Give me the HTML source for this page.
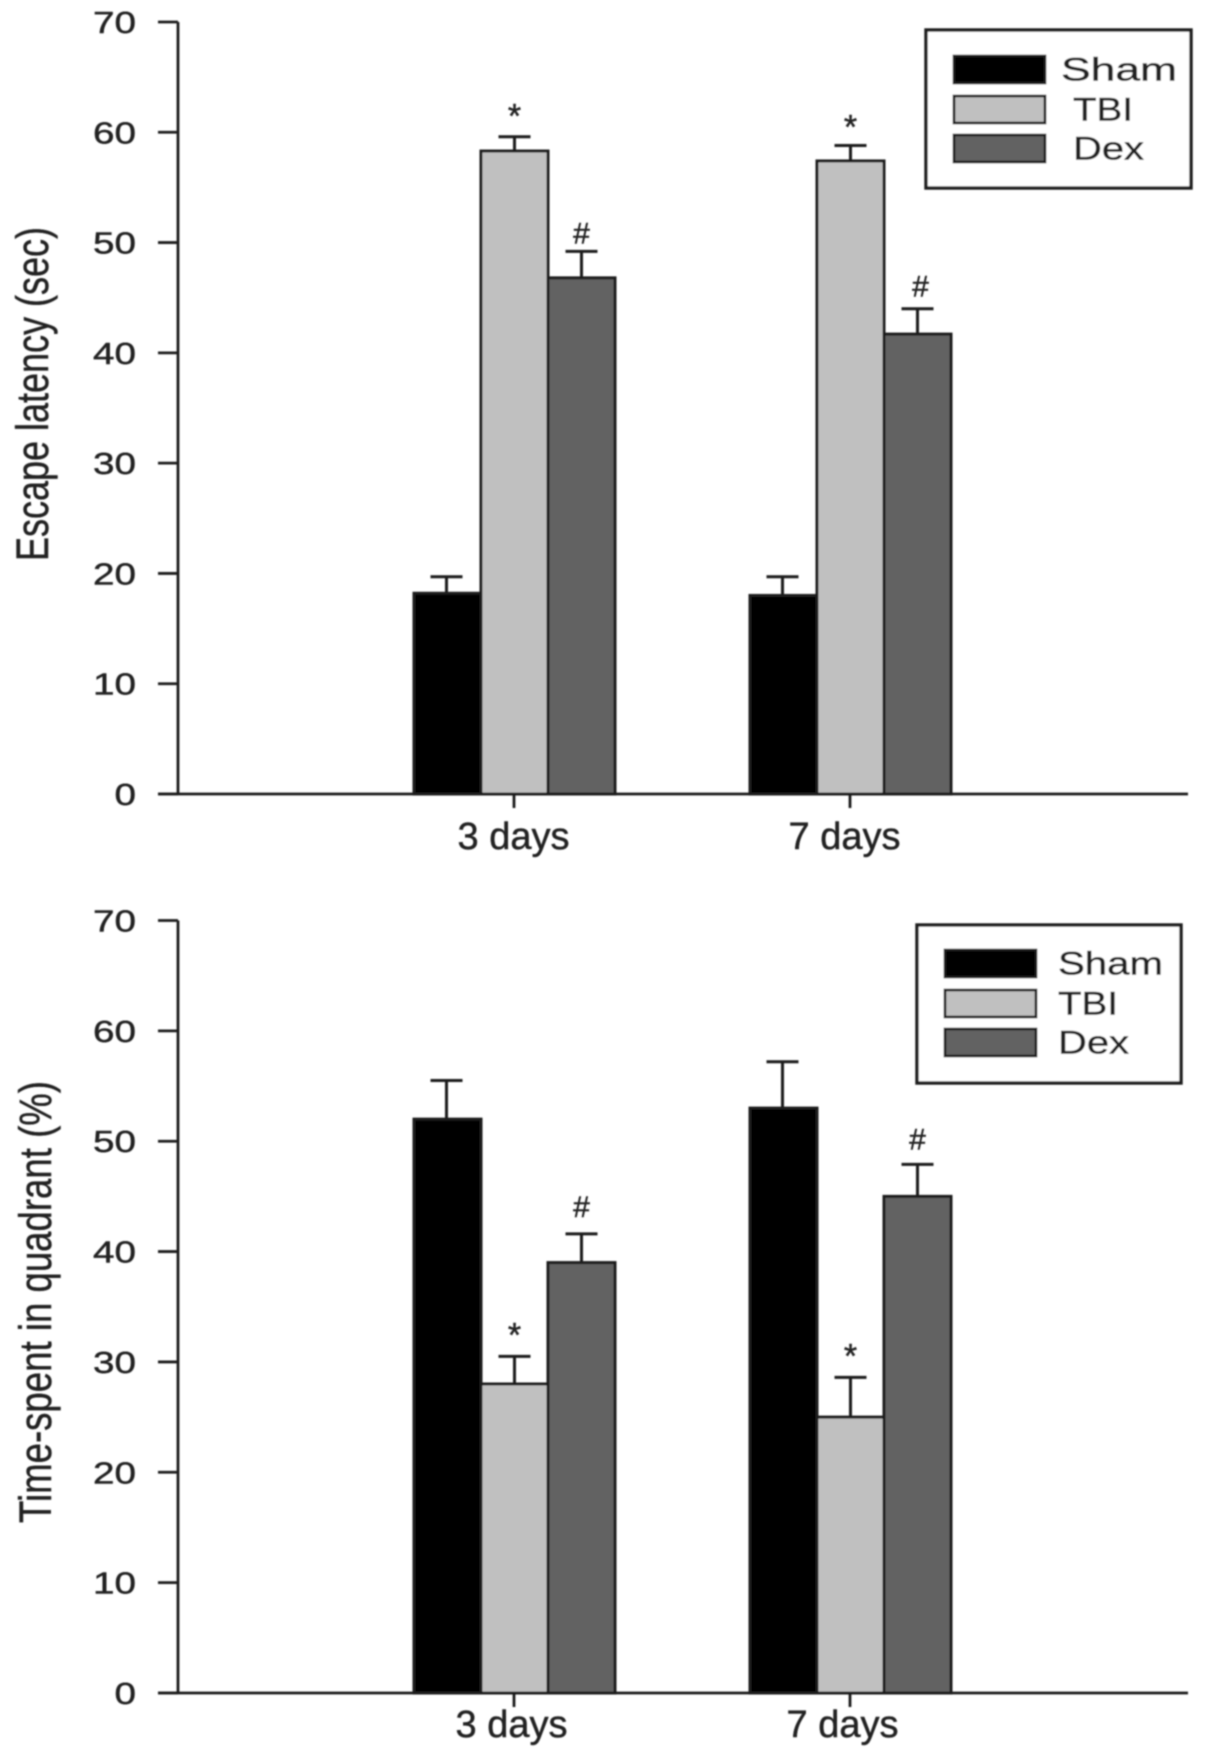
<!DOCTYPE html>
<html>
<head>
<meta charset="utf-8">
<style>
html,body{margin:0;padding:0;background:#fff;}
svg{display:block;}
text{font-family:"Liberation Sans",sans-serif;fill:#222;stroke:#222;stroke-width:0.45px;}
</style>
</head>
<body>
<svg id="fig" width="1205" height="1757" viewBox="0 0 1205 1757" xmlns="http://www.w3.org/2000/svg">
<defs><filter id="soft" x="-2%" y="-2%" width="104%" height="104%"><feGaussianBlur stdDeviation="0.7"/></filter></defs>
<g id="root" filter="url(#soft)"></g>
</svg>
<script>
const categories = ['3 days', '7 days'];
const seriesNames = ['Sham', 'TBI', 'Dex'];
const yTicks = [0, 10, 20, 30, 40, 50, 60, 70];
const latencyTitle = 'Escape latency (sec)';
const quadrantTitle = 'Time-spent in quadrant (%)';
const latencySham = [18.2, 18];
const latencyTBI = [58.3, 57.4];
const latencyDex = [46.8, 41.7];
const latencyShamErr = [1.5, 1.7];
const latencyTBIErr = [1.3, 1.4];
const latencyDexErr = [2.4, 2.3];
const quadrantSham = [52, 53];
const quadrantTBI = [28, 25];
const quadrantDex = [39, 45];
const quadrantShamErr = [3.5, 4.2];
const quadrantTBIErr = [2.5, 3.6];
const quadrantDexErr = [2.6, 2.9];

const NS = 'http://www.w3.org/2000/svg';
const root = document.getElementById('root');
const fills = ['#000', '#c0c0c0', '#626262'];
const STROKE = '#1c1c1c';

function mk(parent, tag, attrs) {
  const el = document.createElementNS(NS, tag);
  for (const k in attrs) el.setAttribute(k, attrs[k]);
  parent.appendChild(el);
  return el;
}
function label(parent, str, attrs) {
  const el = mk(parent, 'text', attrs);
  el.setAttribute('lengthAdjust', 'spacingAndGlyphs');
  el.textContent = str;
  return el;
}

function drawChart(cfg) {
  const g = mk(root, 'g', {});
  
  
  const y = v => cfg.y0 - (v / 70) * (cfg.y0 - cfg.y70);
  const xCat = i => 514.5 + i * 336;
  const barW = 67;
  const xBar = (i, s) => xCat(i) + (s - 1.5) * barW;

  // error bars
  cfg.values.forEach((vals, s) => {
    vals.forEach((v, i) => {
      const top = y(v + cfg.errors[s][i]);
      const cx = xBar(i, s) + barW / 2 + (s === 0 ? -1 : 0);
      const errLine = mk(g, 'path', {
        d: 'M' + cx + ' ' + y(v) + 'V' + top + 'M' + (cx - 16) + ' ' + top + 'H' + (cx + 16),
        fill: 'none', stroke: STROKE, 'stroke-width': 3
      });
      
      
    });
  });
  // bars and significance marks
  cfg.values.forEach((vals, s) => {
    vals.forEach((v, i) => {
      const bar = mk(g, 'rect', {
        x: xBar(i, s), y: y(v), width: barW, height: y(0) - y(v),
        fill: fills[s], stroke: STROKE, 'stroke-width': 3
      });
      
      
      if (s > 0) {
        const top = y(v + cfg.errors[s][i]);
        const isStar = s === 1;
        const gap = isStar ? cfg.starGap[i] : cfg.hashGap[i];
        const mark = label(g, isStar ? '*' : '#', {
          x: xBar(i, s) + barW / 2 + (isStar ? 0 : cfg.hashDx[i]), y: top - gap,
          'text-anchor': 'middle', 'font-size': isStar ? 34 : 30
        });
        
        
      }
    });
  });

  // axes
  const axes = mk(g, 'path', {
    d: 'M178 ' + cfg.y70 + 'V' + cfg.y0 + 'M158 ' + cfg.y0 + 'H1188',
    fill: 'none', stroke: STROKE, 'stroke-width': 2.8
  });
  
  

  yTicks.forEach(t => {
    const tick = mk(g, 'line', { x1: 158, x2: 178, y1: y(t), y2: y(t), stroke: STROKE, 'stroke-width': 2.8 });
    
    
    const tl = label(g, String(t), {
      x: 136, y: y(t) + 11, 'text-anchor': 'end', 'font-size': 31,
      textLength: String(t).length * 21.5
    });
    
    
  });

  categories.forEach((c, i) => {
    const tick = mk(g, 'line', { x1: 514 + i * 336, x2: 514 + i * 336, y1: cfg.y0, y2: cfg.y0 + 14, stroke: STROKE, 'stroke-width': 2.8 });
    
    
    const tl = label(g, c, {
      x: cfg.catX[i], y: cfg.y0 + cfg.catDy, 'font-size': 38, textLength: 112
    });
    
    
  });

  const title = label(g, cfg.title, {
    transform: 'translate(' + cfg.titleX + ' ' + cfg.titleStart + ') rotate(-90)',
    'font-size': 45, textLength: cfg.titleLen
  });
  
  

  // legend
  const L = cfg.legend;
  const leg = mk(g, 'g', {});
  
  
  mk(leg, 'rect', { x: L.x, y: L.y, width: L.w, height: L.h, fill: '#fff', stroke: STROKE, 'stroke-width': 3.4 });
  seriesNames.forEach((n, s) => {
    const sw = mk(leg, 'rect', {
      x: L.sx, y: L.sy[s], width: L.sw, height: L.sh,
      fill: fills[s], stroke: STROKE, 'stroke-width': 2.6
    });
    
    
    const t = label(leg, n, {
      x: L.tx[s], y: L.sy[s] + L.sh / 2 + 11, 'font-size': 32, textLength: L.tw[s]
    });
    
    
  });
}

drawChart({
  name: 'escape-latency-chart',
  y0: 794, y70: 22,
  values: [latencySham, latencyTBI, latencyDex],
  errors: [latencyShamErr, latencyTBIErr, latencyDexErr],
  starGap: [9, 7], hashGap: [8, 12], hashDx: [0, 3],
  catX: [457.5, 788.5], catDy: 55,
  title: latencyTitle, titleX: 48, titleStart: 561, titleLen: 334,
  legend: { x: 926, y: 30, w: 265, h: 158, sx: 954, sw: 91, sh: 27, sy: [56, 96, 135], tx: [1061, 1073, 1073], tw: [116, 60, 71] }
});
drawChart({
  name: 'time-in-quadrant-chart',
  y0: 1693, y70: 920.5,
  values: [quadrantSham, quadrantTBI, quadrantDex],
  errors: [quadrantShamErr, quadrantTBIErr, quadrantDexErr],
  starGap: [10, 10], hashGap: [17, 15], hashDx: [0, 0],
  catX: [455.5, 786.5], catDy: 44,
  title: quadrantTitle, titleX: 51, titleStart: 1523, titleLen: 442,
  legend: { x: 917, y: 925, w: 264, h: 158, sx: 945, sw: 91, sh: 27, sy: [950, 990, 1029], tx: [1058, 1058, 1058], tw: [105, 60, 71] }
});
</script>
</body>
</html>
